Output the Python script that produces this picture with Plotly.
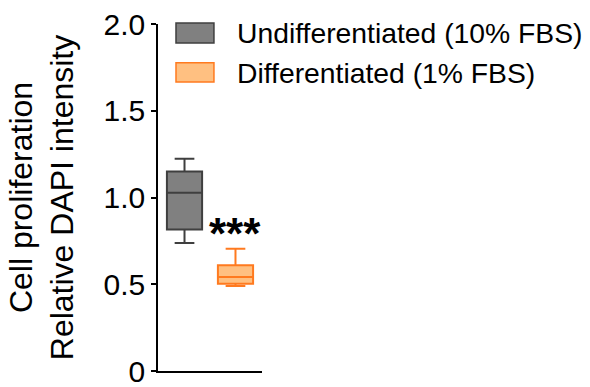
import plotly.graph_objects as go

# Data
groups = ["Undifferentiated (10% FBS)", "Differentiated (1% FBS)"]
lower_fence = [0.738, 0.490]
q1_vals = [0.816, 0.503]
median_vals = [1.027, 0.542]
q3_vals = [1.150, 0.609]
upper_fence = [1.224, 0.705]
fill_colors = ["#808080", "#FFC081"]
line_colors = ["#3f3f3f", "#FF7A1F"]
y_tickvals = [0, 0.5, 1.0, 1.5, 2.0]
y_ticktext = ["0", "0.5", "1.0", "1.5", "2.0"]
sig_label = "***"

FONT = "Liberation Sans, Arial, sans-serif"

fig = go.Figure()
for i, g in enumerate(groups):
    fig.add_trace(go.Box(
        x=[g], q1=[q1_vals[i]], median=[median_vals[i]], q3=[q3_vals[i]],
        lowerfence=[lower_fence[i]], upperfence=[upper_fence[i]],
        fillcolor=fill_colors[i], line=dict(color=line_colors[i], width=2),
        whiskerwidth=0.56, width=0.69, boxpoints=False, name=g,
        showlegend=False, hoverinfo="skip",
    ))

# significance stars
fig.add_annotation(x=groups[1], y=0.79, text="<b>" + sig_label + "</b>",
                   showarrow=False, font=dict(size=44, color="black", family=FONT),
                   yanchor="middle", xanchor="center")

# custom legend (large swatches)
leg_y = [(1.003, 0.945), (0.888, 0.833)]
leg_ty = [0.974, 0.859]
for i, g in enumerate(groups):
    fig.add_shape(type="rect", xref="paper", yref="paper",
                  x0=0.173, x1=0.538, y0=leg_y[i][1], y1=leg_y[i][0],
                  fillcolor=fill_colors[i], line=dict(color=line_colors[i], width=1.5))
    fig.add_annotation(xref="paper", yref="paper", x=0.75, y=leg_ty[i],
                       text=g, showarrow=False, xanchor="left", yanchor="middle",
                       borderpad=0,
                       font=dict(size=28.3, color="black", family=FONT))

fig.update_layout(
    width=590, height=387,
    margin=dict(l=158, r=328, t=24, b=16, autoexpand=False),
    paper_bgcolor="white", plot_bgcolor="white",
    font=dict(family=FONT, color="black"),
    showlegend=False,
    boxmode="overlay",
    xaxis=dict(type="category", categoryorder="array", categoryarray=groups,
               range=[-0.52, 1.52], showline=True, linecolor="black", linewidth=1.5,
               showticklabels=False, ticks="", showgrid=False, zeroline=False,
               fixedrange=True, automargin=False),
    yaxis=dict(range=[0, 2.0], tickvals=y_tickvals, ticktext=y_ticktext,
               ticks="outside", ticklen=5, tickwidth=1.5, tickcolor="black",
               showline=True, linecolor="black", linewidth=1.5,
               showgrid=False, zeroline=False, automargin=False,
               ticklabeloverflow="allow",
               tickfont=dict(size=30, family=FONT),
               title=dict(text="Cell proliferation<br>Relative DAPI intensity",
                          font=dict(size=32, family=FONT), standoff=20),
               fixedrange=True),
)

fig.write_html("out.html", config={"displayModeBar": False},
               post_script="document.body.style.margin='0';document.body.style.overflow='hidden';")
